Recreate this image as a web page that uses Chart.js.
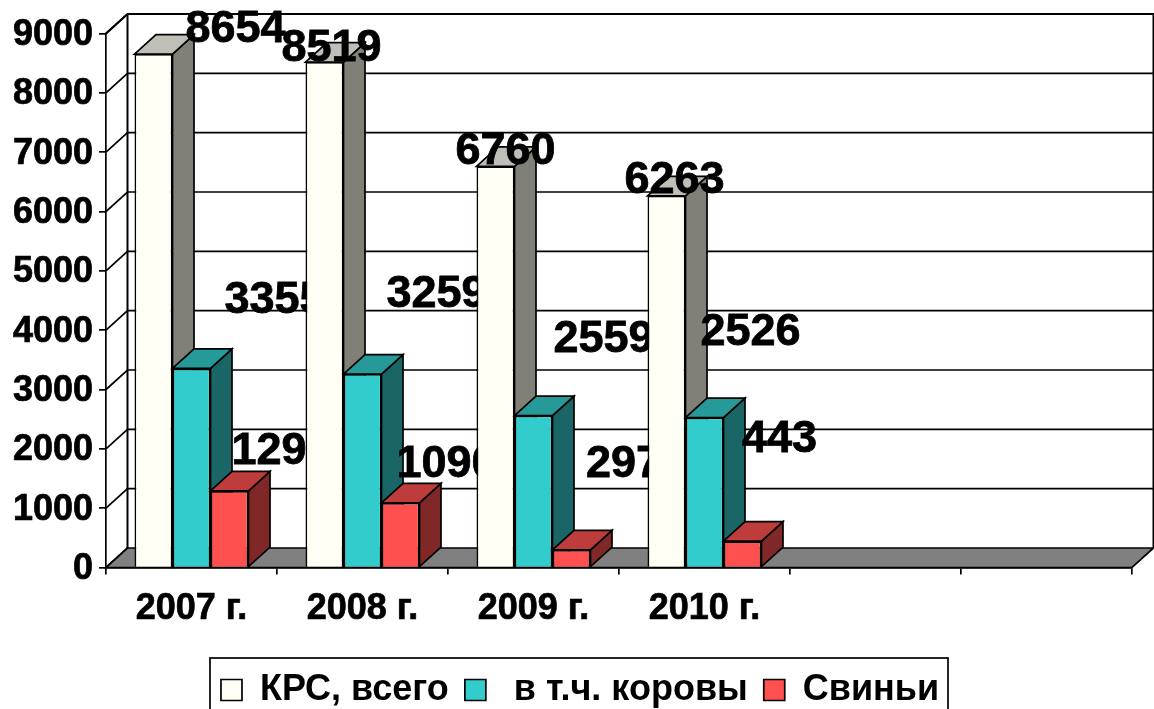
<!DOCTYPE html>
<html>
<head>
<meta charset="utf-8">
<style>html,body{margin:0;padding:0;background:#fff;overflow:hidden}canvas{display:block}</style>
<script src="https://cdn.jsdelivr.net/npm/chart.js@4"></script>
</head>
<body>
<canvas id="c" width="1154" height="709"></canvas>
<script>
const categories = ['2007 г.', '2008 г.', '2009 г.', '2010 г.', '', ''];
const seriesNames = ['КРС, всего', ' в т.ч. коровы', 'Свиньи'];
const cattle = [8654, 8519, 6760, 6263, null, null];
const cows = [3355, 3259, 2559, 2526, null, null];
const pigs = [1290, 1090, 297, 443, null, null];
const yTicks = [0, 1000, 2000, 3000, 4000, 5000, 6000, 7000, 8000, 9000];

const FONT = '"Liberation Sans", Arial, sans-serif';
const DX = 21.5, DY = -19.5;
const faces = [
  {front: '#FFFFF5', top: '#BFBFB8', side: '#808078'},
  {front: '#33CCCC', top: '#269999', side: '#1A6666'},
  {front: '#FF5050', top: '#BF3C3C', side: '#802828'}
];
// hand-placed value label offsets (from bar centre / bar top), as in the original
const labelOffsets = [
  [[82, -24.5], [7, -13.5], [10, -14.5], [8, -15.5]],
  [[83, -67.5], [74, -79.5], [70, -76.5], [46, -85.5]],
  [[52, -39], [46, -38], [52, -85], [37, -101.5]]
];

function poly(ctx, pts, fill) {
  ctx.beginPath();
  pts.forEach((p, i) => i ? ctx.lineTo(p[0], p[1]) : ctx.moveTo(p[0], p[1]));
  ctx.closePath();
  if (fill) { ctx.fillStyle = fill; ctx.fill(); }
  ctx.stroke();
}

const box3d = {
  id: 'box3d',
  afterLayout(chart) {
    chart.legend.top += 9;
    chart.legend.bottom += 9;
    chart.legend.left += 14;
    chart.legend.right += 14;
  },
  beforeDatasetsDraw(chart) {
    const ctx = chart.ctx, xs = chart.scales.x, ys = chart.scales.y;
    const L = xs.left, R = xs.right, B = ys.bottom;
    ctx.save();
    ctx.strokeStyle = '#000';
    ctx.lineJoin = 'miter';
    ctx.lineWidth = 1.7;
    yTicks.forEach(v => {
      const y = ys.getPixelForValue(v);
      ctx.beginPath();
      ctx.moveTo(L, y); ctx.lineTo(L + DX, y + DY);
      if (v > 0) ctx.lineTo(R + DX, y + DY);
      ctx.stroke();
    });
    const T = ys.getPixelForValue(9000);
    ctx.lineWidth = 2;
    ctx.beginPath();
    ctx.moveTo(L, T); ctx.lineTo(L + DX, T + DY); ctx.lineTo(R + DX, T + DY); ctx.lineTo(R + DX, B + DY);
    ctx.stroke();
    ctx.beginPath(); ctx.moveTo(L + DX, T + DY); ctx.lineTo(L + DX, B + DY); ctx.stroke();
    ctx.lineWidth = 1.7;
    poly(ctx, [[L, B], [R, B], [R + DX, B + DY], [L + DX, B + DY]], '#808080');
    // bars, category by category, so later bars cover earlier labels
    const metas = [0, 1, 2].map(i => chart.getDatasetMeta(i));
    categories.forEach((_, c) => {
      metas.forEach((meta, s) => {
        const raw = chart.data.datasets[s].data[c];
        if (raw == null) return;
        const el = meta.data[c];
        const {x, y, base, width} = el.getProps(['x', 'y', 'base', 'width'], true);
        const x1 = x - width / 2, x2 = x + width / 2;
        ctx.lineWidth = 1.7;
        poly(ctx, [[x2, y], [x2 + DX, y + DY], [x2 + DX, base + DY], [x2, base]], faces[s].side);
        poly(ctx, [[x1, y], [x1 + DX, y + DY], [x2 + DX, y + DY], [x2, y]], faces[s].top);
        el.draw(ctx);
      });
      metas.forEach((meta, s) => {
        const raw = chart.data.datasets[s].data[c];
        if (raw == null) return;
        const {x, y} = meta.data[c].getProps(['x', 'y'], true);
        const off = labelOffsets[s][c];
        ctx.fillStyle = '#000';
        ctx.strokeStyle = '#000';
        ctx.lineWidth = 0.8;
        ctx.font = 'bold 45px ' + FONT;
        ctx.textAlign = 'center';
        ctx.textBaseline = 'middle';
        ctx.fillText(String(raw), x + off[0], y + off[1]);
        ctx.strokeText(String(raw), x + off[0], y + off[1]);
      });
    });
    ctx.restore();
    return false;
  },
  afterDraw(chart) {
    const ctx = chart.ctx;
    ctx.save();
    ctx.strokeStyle = '#000';
    ctx.lineWidth = 1.7;
    ctx.strokeRect(210, 658, 738, 60);
    ctx.restore();
  }
};

new Chart(document.getElementById('c'), {
  type: 'bar',
  data: {
    labels: categories,
    datasets: [cattle, cows, pigs].map((d, i) => ({
      label: seriesNames[i],
      data: d,
      backgroundColor: faces[i].front,
      borderColor: '#000',
      borderWidth: 1.7
    }))
  },
  options: {
    responsive: false,
    animation: false,
    devicePixelRatio: 1,
    layout: {padding: {left: 0, right: 22, top: 33.5, bottom: 0}},
    datasets: {bar: {categoryPercentage: 2 / 3, barPercentage: 1}},
    plugins: {
      tooltip: {enabled: false},
      title: {display: false},
      legend: {
        position: 'bottom',
        labels: {
          color: '#000',
          font: {family: FONT, weight: 'bold', size: 36},
          boxWidth: 21, boxHeight: 21, padding: 16
        }
      }
    },
    scales: {
      x: {
        afterFit(s) { s.height = 79.5; s.paddingLeft = 0; s.paddingRight = 0; },
        grid: {drawOnChartArea: false, offset: true, tickLength: 7, color: '#000', lineWidth: 1.7},
        border: {color: '#000', width: 1.7},
        ticks: {autoSkip: false, maxRotation: 0, minRotation: 0, color: '#000', padding: 13,
          textStrokeColor: '#000', textStrokeWidth: 0.7,
          font: {family: FONT, weight: 'bold', size: 36}}
      },
      y: {
        min: 0, max: 9000,
        afterFit(s) { s.width = 106; s.paddingTop = 0; s.paddingBottom = 0; },
        grid: {drawOnChartArea: false, tickLength: 7, color: '#000', lineWidth: 1.7},
        border: {color: '#000', width: 1.7},
        ticks: {stepSize: 1000, color: '#000', padding: 6, labelOffset: 1.5,
          textStrokeColor: '#000', textStrokeWidth: 0.7,
          callback: v => String(v),
          font: {family: FONT, weight: 'bold', size: 36}}
      }
    }
  },
  plugins: [box3d]
});
</script>
</body>
</html>
